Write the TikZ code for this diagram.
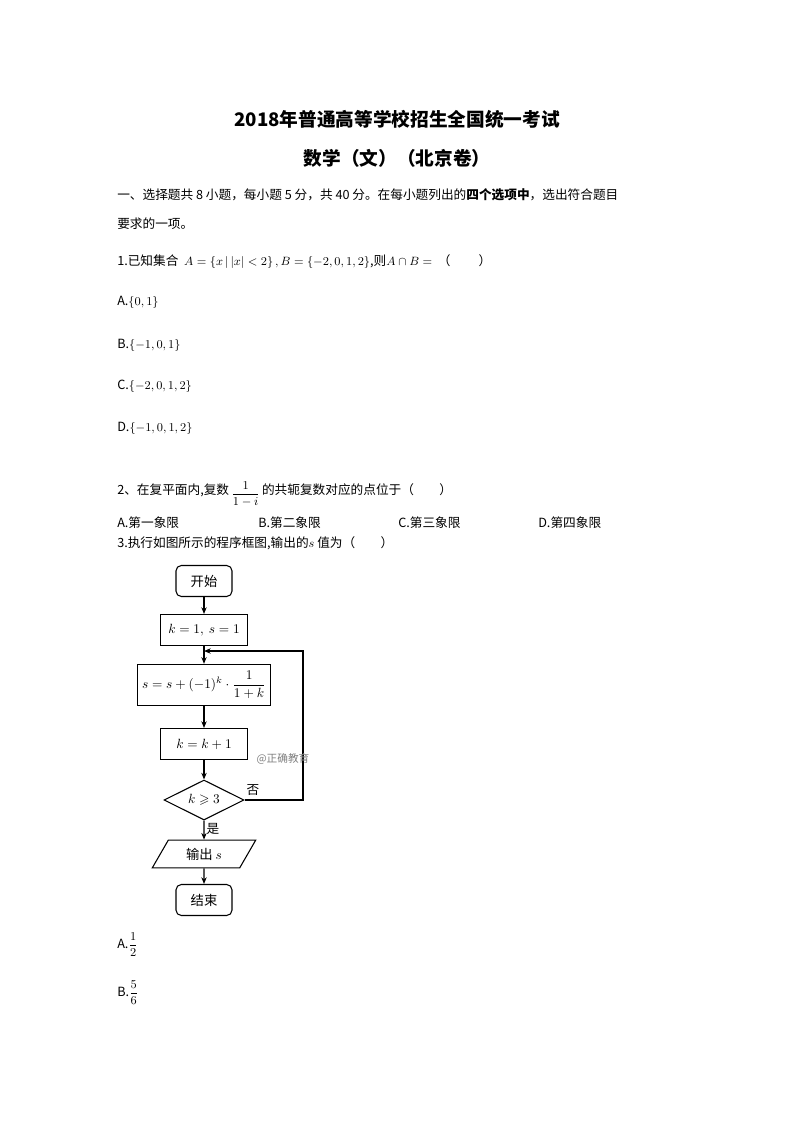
\documentclass[tikz,border=0pt]{standalone}
\usepackage{amsmath,amssymb}
\usepackage{fontspec}
\newfontfamily\cjk{Noto Sans CJK SC}
\usetikzlibrary{shapes.geometric,arrows.meta}
\begin{document}
\begin{tikzpicture}[x=0.75pt,y=-0.75pt,
  txt/.style={anchor=west,inner sep=0,font=\cjk\fontsize{9.5}{11}\selectfont},
  proc/.style={draw,thick,minimum height=23.25pt,inner sep=2pt,font=\cjk\fontsize{10}{12}\selectfont},
  rbox/.style={proc,rounded corners=4pt},
  arr/.style={thick,-{Stealth[length=5pt,width=4pt]}}]
\useasboundingbox (0,0) rectangle (794,1123);
\fill[white] (0,0) rectangle (794,1123);
\node[inner sep=0,font=\cjk\fontsize{14}{16}\selectfont\bfseries] (t1) at (397,119) {2018年普通高等学校招生全国统一考试};
\node[inner sep=0,font=\cjk\fontsize{14}{16}\selectfont\bfseries] (t2) at (397,158) {数学（文）（北京卷）};
\node[txt] (l1) at (117,195) {一、选择题共 8 小题，每小题 5 分，共 40 分。在每小题列出的\textbf{四个选项中}，选出符合题目};
\node[txt] (l2) at (117,224) {要求的一项。};
\node[txt] (q1) at (117,262) {1.已知集合\ \ $A=\left\{x\,\middle|\,|x|<2\right\},B=\left\{-2,0,1,2\right\}$,则$A\cap B=$\ \ （\qquad\ ）};
\node[txt] (a1) at (117,302) {A.$\{0,1\}$};
\node[txt] (b1) at (117,345) {B.$\{-1,0,1\}$};
\node[txt] (c1) at (117,386) {C.$\{-2,0,1,2\}$};
\node[txt] (d1) at (117,428) {D.$\{-1,0,1,2\}$};
\node[txt] (q2) at (117,494) {2、在复平面内,复数\,\raisebox{-2pt}{$\dfrac{\;1\;}{1-i}$}\,的共轭复数对应的点位于（\qquad ）};
\node[txt] (o1) at (117,523) {A.第一象限};
\node[txt] (o2) at (258,523) {B.第二象限};
\node[txt] (o3) at (398,523) {C.第三象限};
\node[txt] (o4) at (538,523) {D.第四象限};
\node[txt] (q3) at (117,543) {3.执行如图所示的程序框图,输出的$s$ 值为（\qquad ）};
% flowchart
\node[rbox,minimum width=42pt] (st) at (204,581) {开始};
\node[proc,minimum width=65pt] (init) at (204,630) {$k=1,\ s=1$};
\node[proc,minimum width=100pt,minimum height=31pt] (upd) at (204,685) {$s=s+(-1)^k\cdot\dfrac{1}{1+k}$};
\node[proc,minimum width=65pt] (inc) at (204,744) {$k=k+1$};
\node[draw,thick,diamond,aspect=2,minimum width=60pt,minimum height=30pt,inner sep=0] (dec) at (204,800) {$k\geqslant 3$};
\node[draw,thick,trapezium,trapezium left angle=60,trapezium right angle=120,minimum width=78pt,minimum height=18pt,inner sep=1pt,font=\cjk\fontsize{10}{12}\selectfont] (out) at (204,854) {输出 $s$};
\node[rbox,minimum width=42pt] (en) at (204,900) {结束};
\coordinate (j) at (204,651);
\coordinate (r1) at (303,800);
\coordinate (r2) at (303,651);
\draw[arr] (st) -- (init);
\draw[thick] (init) -- (j);
\draw[arr] (j) -- (upd);
\draw[arr] (upd) -- (inc);
\draw[arr] (inc) -- (dec);
\draw[arr] (dec) -- (out);
\draw[arr] (out) -- (en);
\draw[arr] (dec.east) -- (r1) -- (r2) -- (j);
\node[inner sep=0,font=\cjk\fontsize{9.5}{11}\selectfont] (no) at (253,790) {否};
\node[inner sep=0,font=\cjk\fontsize{9.5}{11}\selectfont] (yes) at (213,829) {是};
\node[inner sep=0,text=gray,font=\cjk\fontsize{8}{10}\selectfont] (wm) at (283,759) {@正确教育};
\node[txt] (aa) at (117,945) {A.$\dfrac{1}{2}$};
\node[txt] (bb) at (117,993) {B.$\dfrac{5}{6}$};
\end{tikzpicture}
\end{document}
